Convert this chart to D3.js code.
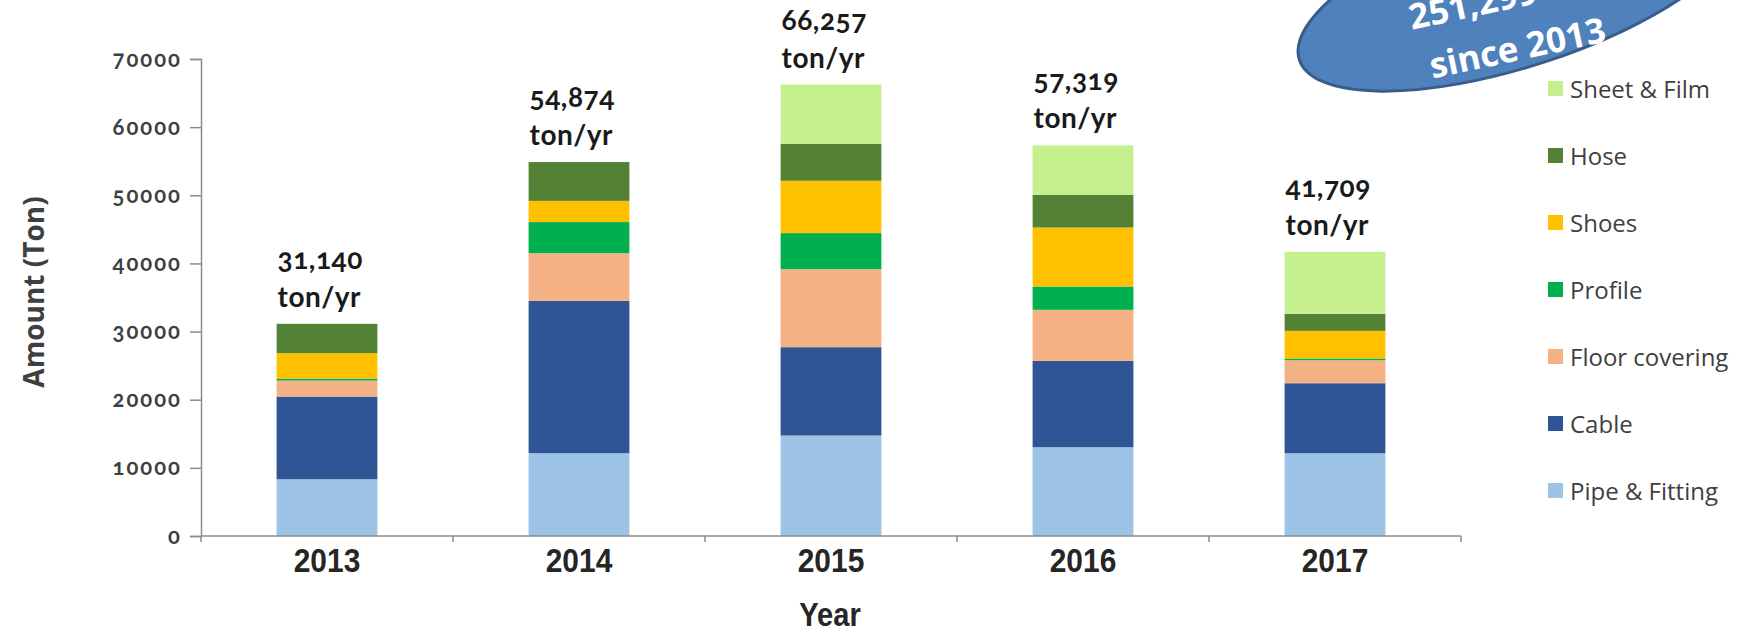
<!DOCTYPE html>
<html>
<head>
<meta charset="utf-8">
<script src="https://cdn.jsdelivr.net/npm/d3@7"></script>
<style>
  body { margin: 0; background: #fff; }
  svg { display: block; }
  .num { font-family: Lato, 'Open Sans', sans-serif; font-variant-numeric: oldstyle-nums; font-feature-settings: 'onum' 1; }
</style>
</head>
<body>
<div id="chart"></div>
<script>
const years = ['2013', '2014', '2015', '2016', '2017']
const totals = [31140, 54874, 66257, 57319, 41709]
const seriesNames = ['Pipe & Fitting', 'Cable', 'Floor covering', 'Profile', 'Shoes', 'Hose', 'Sheet & Film']
const seriesColors = ['#9dc3e6', '#2f5597', '#f4b183', '#00b050', '#ffc000', '#548235', '#c6ef8e']
const pipeFitting = [8330, 12150, 14750, 13030, 12140]
const cable = [12130, 22360, 12960, 12670, 10280]
const floorCovering = [2350, 7000, 11450, 7490, 3380]
const profile = [300, 4560, 5290, 3420, 250]
const shoes = [3720, 3110, 7680, 8660, 4050]
const hose = [4310, 5694, 5430, 4800, 2500]
const sheetFilm = [0, 0, 8697, 7249, 9109]
const yTicks = [0, 10000, 20000, 30000, 40000, 50000, 60000, 70000]

const width = 1752
const height = 636
const seriesValues = [pipeFitting, cable, floorCovering, profile, shoes, hose, sheetFilm]

const rows = years.map((y, i) => {
    const r = { year: y }
    seriesNames.forEach((s, j) => { r[s] = seriesValues[j][i] })
    return r
})

const svg = d3.select('#chart').append('svg')
    .attr('width', width)
    .attr('height', height)

const x = d3.scaleBand().domain(years).range([201, 1461]).paddingInner(0.6).paddingOuter(0.3)
const y = d3.scaleLinear().domain([0, 70000]).range([536, 59])
const color = d3.scaleOrdinal().domain(seriesNames).range(seriesColors)

const stacked = d3.stack().keys(seriesNames)(rows)

// bars
svg.append('g')
    .selectAll('g')
    .data(stacked)
    .join('g')
    .attr('fill', d => color(d.key))
    .selectAll('rect')
    .data(d => d)
    .join('rect')
    .attr('x', d => x(d.data.year))
    .attr('width', x.bandwidth())
    .attr('y', d => y(d[1]))
    .attr('height', d => y(d[0]) - y(d[1]))

// y axis
const yAxis = svg.append('g')
    .attr('transform', 'translate(201,0)')
    .call(d3.axisLeft(y).tickValues(yTicks).tickSize(11).tickPadding(8).tickFormat(d3.format('d')))
yAxis.select('.domain').attr('stroke', '#8c8c8c').attr('stroke-width', 1.5)
yAxis.selectAll('.tick line').attr('stroke', '#8c8c8c').attr('stroke-width', 1.5)
yAxis.selectAll('.tick text')
    .attr('class', 'num')
    .attr('fill', '#3f3f3f')
    .style('font-size', '22px')
    .style('font-weight', 'bold')
    .style('letter-spacing', '2px')

// x axis line, ticks sit on the category boundaries
svg.append('line')
    .attr('x1', 201).attr('x2', 1461)
    .attr('y1', y(0)).attr('y2', y(0))
    .attr('stroke', '#8c8c8c').attr('stroke-width', 1.5)
svg.append('g')
    .selectAll('line')
    .data(d3.range(years.length + 1))
    .join('line')
    .attr('x1', d => 201 + d * x.step())
    .attr('x2', d => 201 + d * x.step())
    .attr('y1', y(0)).attr('y2', y(0) + 6)
    .attr('stroke', '#8c8c8c').attr('stroke-width', 1.5)

svg.append('g')
    .selectAll('text')
    .data(years)
    .join('text')
    .attr('transform', d => `translate(${x(d) + x.bandwidth() / 2},572) scale(0.88,1)`)
    .attr('text-anchor', 'middle')
    .attr('fill', '#262626')
    .style('font-family', "'Liberation Sans', Arial, sans-serif")
    .style('font-weight', 'bold')
    .style('font-size', '34px')
    .text(d => d)

// axis titles
svg.append('text')
    .attr('transform', 'translate(830,626) scale(0.88,1)')
    .attr('text-anchor', 'middle')
    .attr('fill', '#262626')
    .style('font-family', "'Liberation Sans', Arial, sans-serif")
    .style('font-weight', 'bold')
    .style('font-size', '33px')
    .text('Year')

svg.append('text')
    .attr('transform', 'translate(44,292) rotate(-90)')
    .attr('text-anchor', 'middle')
    .attr('fill', '#3f3f3f')
    .style('font-family', "'Open Sans', sans-serif")
    .style('font-weight', 'bold')
    .style('font-size', '28px')
    .text('Amount (Ton)')

// total labels above bars
const labels = svg.append('g')
    .selectAll('text')
    .data(years)
    .join('text')
    .attr('class', 'num')
    .attr('fill', '#1a1a1a')
    .style('font-weight', 'bold')
    .style('font-size', '28px')
    .style('letter-spacing', '0.5px')
labels.append('tspan')
    .attr('x', d => x(d) + 1)
    .attr('y', (d, i) => y(totals[i]) - 55)
    .text((d, i) => d3.format(',')(totals[i]))
labels.append('tspan')
    .attr('x', d => x(d) + 1)
    .attr('y', (d, i) => y(totals[i]) - 17)
    .text('ton/yr')

// legend
const legendOrder = seriesNames.slice().reverse()
const legend = svg.append('g')
    .selectAll('g')
    .data(legendOrder)
    .join('g')
    .attr('transform', (d, i) => `translate(1548,${89 + i * 67})`)
legend.append('rect')
    .attr('x', 0).attr('y', -8)
    .attr('width', 15).attr('height', 15)
    .attr('fill', d => color(d))
legend.append('text')
    .attr('x', 22).attr('y', 9)
    .attr('fill', '#404040')
    .style('font-family', "'Open Sans', sans-serif")
    .style('font-size', '24px')
    .text(d => d)

// callout ellipse at top right
const callout = svg.append('g')
callout.append('ellipse')
    .attr('transform', 'translate(1520,-12) rotate(-18)')
    .attr('rx', 232).attr('ry', 78)
    .attr('fill', '#4f81bd')
    .attr('stroke', '#385d8a')
    .attr('stroke-width', 3)
const calloutText = callout.append('g')
    .attr('transform', 'translate(1520,60) rotate(-12)')
    .attr('text-anchor', 'middle')
    .attr('fill', '#fff')
    .style('font-family', "'Open Sans', sans-serif")
    .style('font-weight', 'bold')
    .style('font-size', '35px')
calloutText.append('text').attr('y', -52).text('251,299 ton')
calloutText.append('text').attr('y', 0).text('since 2013')
</script>
</body>
</html>
